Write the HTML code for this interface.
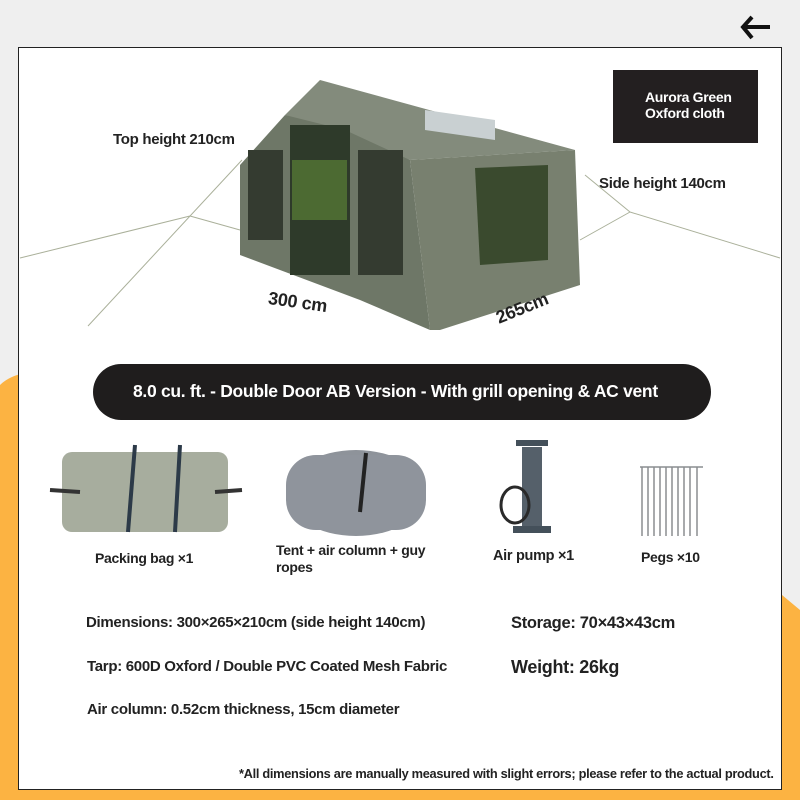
<!DOCTYPE html>
<html><head><style>
body{margin:0;width:800px;height:800px;overflow:hidden;background:#efefef;font-family:"Liberation Sans",sans-serif;position:relative}
.t{position:absolute;color:#222;font-size:14px;white-space:nowrap;letter-spacing:-0.3px;font-weight:bold}
</style></head><body>
<svg width="800" height="800" style="position:absolute;left:0;top:0">
<rect width="800" height="800" fill="#efefef"/>
<path d="M0 385 Q10 375 30 372 L30 800 L0 800Z" fill="#fcb342"/>
<path d="M782 595 L800 610 L800 800 L770 800Z" fill="#fcb342"/>
<rect x="0" y="785" width="800" height="15" fill="#fcb342"/>
<rect x="18.5" y="47.5" width="763" height="742" fill="#fff" stroke="#222" stroke-width="1"/>
<path d="M742 27 H770 M752 17 L743 27 L752 38" stroke="#111" stroke-width="4" fill="none"/>
<g stroke="#aab09a" stroke-width="1" fill="none">
<line x1="20" y1="258" x2="190" y2="216"/><line x1="190" y1="216" x2="240" y2="230"/>
<line x1="88" y1="326" x2="242" y2="160"/>
<line x1="780" y1="258" x2="630" y2="212"/><line x1="630" y1="212" x2="580" y2="240"/>
<line x1="630" y1="212" x2="585" y2="175"/>
</g>
<polygon points="320,80 575,150 410,160 285,115" fill="#838b7c"/>
<polygon points="240,165 285,115 345,130 410,160 430,330 360,300 240,255" fill="#6e7767"/>
<polygon points="410,160 575,150 580,285 440,330 430,330" fill="#78806f"/>
<polygon points="425,110 495,120 495,140 425,130" fill="#c9d0d2"/>
<rect x="290" y="125" width="60" height="150" fill="#2e3a2a"/>
<rect x="292" y="160" width="55" height="60" fill="#4c6a32"/>
<rect x="248" y="150" width="35" height="90" fill="#343b30"/>
<rect x="358" y="150" width="45" height="125" fill="#343b30"/>
<polygon points="475,168 548,165 548,260 480,265" fill="#3a4a2e"/>
<rect x="613" y="70" width="145" height="73" fill="#231f20"/>
<rect x="93" y="364" width="618" height="56" rx="28" fill="#1f1d1d"/>
<rect x="62" y="452" width="166" height="80" rx="10" fill="#a7ad9e"/>
<path d="M50 490 L80 492 M215 492 L242 490" stroke="#333" stroke-width="4"/>
<path d="M135 445 L128 532 M180 445 L175 532" stroke="#2c3a48" stroke-width="4"/>
<ellipse cx="356" cy="493" rx="70" ry="43" fill="#8e939a"/>
<rect x="286" y="455" width="140" height="75" rx="30" fill="#8f949c"/>
<path d="M366 453 L360 512" stroke="#222" stroke-width="4"/>
<rect x="522" y="447" width="20" height="82" fill="#55606a"/>
<rect x="516" y="440" width="32" height="6" fill="#44505a"/>
<rect x="513" y="526" width="38" height="7" fill="#44505a"/>
<ellipse cx="515" cy="505" rx="14" ry="18" fill="none" stroke="#2a2a2a" stroke-width="3"/>
<g stroke="#8a8d90" stroke-width="1.5"><line x1="642" y1="467" x2="642" y2="536"/><line x1="648" y1="467" x2="648" y2="536"/><line x1="654" y1="467" x2="654" y2="536"/><line x1="660" y1="467" x2="660" y2="536"/><line x1="666" y1="467" x2="666" y2="536"/><line x1="672" y1="467" x2="672" y2="536"/><line x1="678" y1="467" x2="678" y2="536"/><line x1="684" y1="467" x2="684" y2="536"/><line x1="690" y1="467" x2="690" y2="536"/><line x1="697" y1="467" x2="697" y2="536"/><line x1="640" y1="467" x2="703" y2="467"/></g>
</svg>
<div class="t" style="left:113px;top:131px;font-size:15px">Top height 210cm</div>
<div class="t" style="left:599px;top:175px;font-size:15px">Side height 140cm</div>
<div class="t" style="left:268px;top:292px;font-size:18px;transform:rotate(8deg)">300 cm</div>
<div class="t" style="left:495px;top:298px;font-size:18px;transform:rotate(-22deg)">265cm</div>
<div class="t" style="left:645px;top:89px;color:#fff;font-size:14px">Aurora Green<br>Oxford cloth</div>
<div class="t" style="left:133px;top:381px;color:#fff;font-size:17.5px">8.0 cu. ft. - Double Door AB Version - With grill opening &amp; AC vent</div>
<div class="t" style="left:95px;top:550px">Packing bag ×1</div>
<div class="t" style="left:276px;top:542px;line-height:17px">Tent + air column + guy<br>ropes</div>
<div class="t" style="left:493px;top:548px;font-size:14.5px">Air pump ×1</div>
<div class="t" style="left:641px;top:549px">Pegs ×10</div>
<div class="t" style="left:86px;top:614px;font-size:15px">Dimensions: 300×265×210cm (side height 140cm)</div>
<div class="t" style="left:511px;top:614px;font-size:16.5px">Storage: 70×43×43cm</div>
<div class="t" style="left:87px;top:658px;font-size:15px">Tarp: 600D Oxford / Double PVC Coated Mesh Fabric</div>
<div class="t" style="left:511px;top:657px;font-size:18px">Weight: 26kg</div>
<div class="t" style="left:87px;top:701px;font-size:15px">Air column: 0.52cm thickness, 15cm diameter</div>
<div class="t" style="left:239px;top:766px;font-size:12.8px">*All dimensions are manually measured with slight errors; please refer to the actual product.</div>
</body></html>
